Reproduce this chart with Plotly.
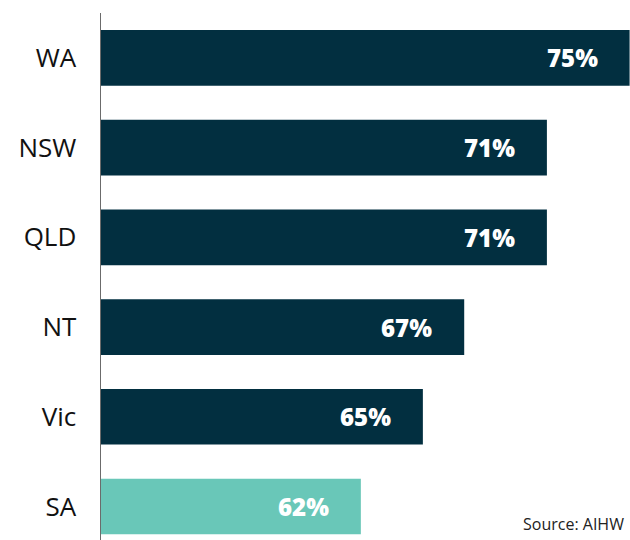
import plotly.graph_objects as go

states = ["WA", "NSW", "QLD", "NT", "Vic", "SA"]
values = [75, 71, 71, 67, 65, 62]
labels = ["75%", "71%", "71%", "67%", "65%", "62%"]
highlight = "SA"

NAVY = "#022F40"
TEAL = "#69C7B8"
colors = [TEAL if s == highlight else NAVY for s in states]

fig = go.Figure()
fig.add_trace(go.Bar(
    y=states, x=values, orientation="h",
    marker=dict(color=colors, line=dict(width=0)),
    width=0.62, hoverinfo="skip", showlegend=False,
))

for s, v, t in zip(states, values, labels):
    fig.add_annotation(
        x=v, y=s, xref="x", yref="y", text=t, showarrow=False,
        xanchor="right", xshift=-30,
        font=dict(family="Open Sans", size=24, color="white", weight=800),
    )

fig.add_annotation(
    x=1, y=0, xref="paper", yref="paper", text="Source: AIHW",
    showarrow=False, xanchor="right", yanchor="bottom", xshift=-4, yshift=3,
    font=dict(family="Open Sans", size=16, color="#222222"),
)

fig.update_layout(
    width=630, height=540,
    margin=dict(l=101, r=0, t=13, b=0),
    paper_bgcolor="white", plot_bgcolor="white",
    xaxis=dict(range=[49.43, 75.02], visible=False, fixedrange=True),
    yaxis=dict(
        categoryorder="array", categoryarray=states,
        range=[5.373, -0.5], showgrid=False, zeroline=False,
        showline=True, linecolor="#6b6b6b", linewidth=1.5,
        ticks="", ticklabelstandoff=18, fixedrange=True,
        tickfont=dict(family="Open Sans", size=26, color="#111111"),
    ),
)

fig.write_html(
    "out.html",
    config={"displayModeBar": False, "staticPlot": True},
    post_script="document.body.style.margin='0';document.body.style.overflow='hidden';",
)
